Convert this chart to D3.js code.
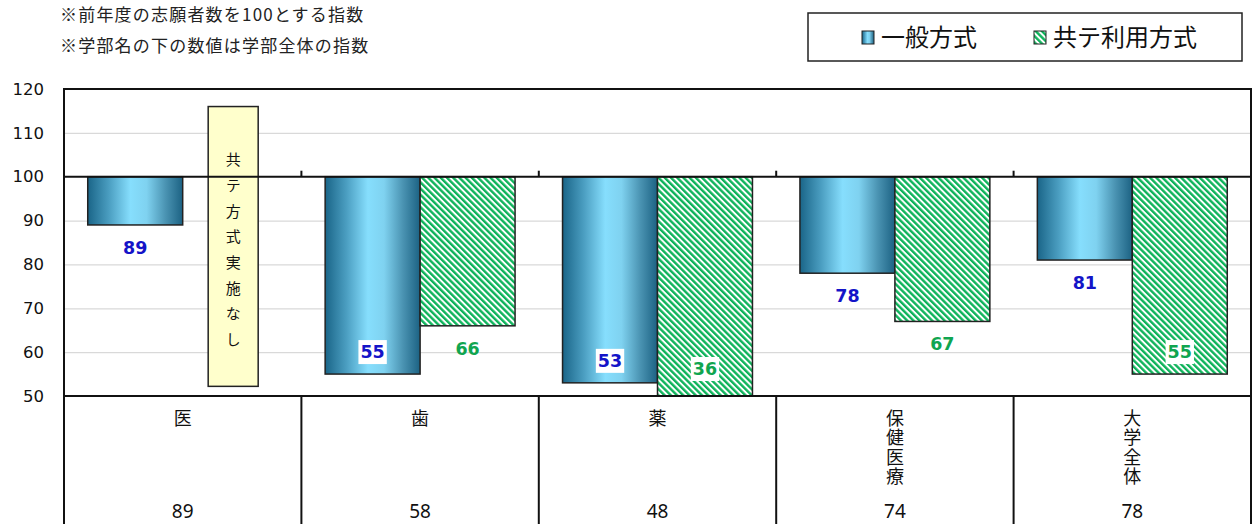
<!DOCTYPE html>
<html>
<head>
<meta charset="utf-8">
<script src="https://cdn.jsdelivr.net/npm/d3@7"></script>
<style>
  body { margin: 0; background: #fff; }
  svg { display: block; }
  .vert { writing-mode: vertical-rl; text-orientation: upright; }
</style>
</head>
<body>
<svg id="chart" width="1252" height="524"></svg>
<script>
"use strict";

// data
var categories = ["医", "歯", "薬", "保健医療", "大学全体"];
var seriesNames = ["一般方式", "共テ利用方式"];
var generalValues = [89, 55, 53, 78, 81];
var kyoteValues = [null, 66, 36, 67, 55];
var facultyTotals = [89, 58, 48, 74, 78];
var yTicks = [50, 60, 70, 80, 90, 100, 110, 120];
var notes = ["※前年度の志願者数を100とする指数", "※学部名の下の数値は学部全体の指数"];
var noKyoteText = "共テ方式実施なし";

var Chart = (function(){
	var svg, x, xs, y,
		left = 64, right = 1251, top = 89, bottom = 396, tableBottom = 524,
		baseValue = 100;

	function init(el) {
		svg = d3.select("#" + el);
		x = d3.scaleBand().domain(categories).range([left, right]);
		xs = d3.scaleBand().domain(seriesNames).range([x.bandwidth() * 0.1, x.bandwidth() * 0.9]);
		y = d3.scaleLinear().domain([50, 120]).range([bottom, top]);

		defs();
		drawNotes();
		drawLegend();
		drawGrid();
		drawBars();
		drawFrame();
		drawLabels();
		drawTable();
	}

	function defs() {
		var d = svg.append("defs");
		var g = d.append("linearGradient").attr("id", "blueGrad")
			.attr("x1", "0%").attr("x2", "100%").attr("y1", "0%").attr("y2", "0%");
		g.append("stop").attr("offset", "0%").attr("stop-color", "#1a6588");
		g.append("stop").attr("offset", "22%").attr("stop-color", "#4a9dc0");
		g.append("stop").attr("offset", "45%").attr("stop-color", "#86defd");
		g.append("stop").attr("offset", "62%").attr("stop-color", "#7fd2f0");
		g.append("stop").attr("offset", "82%").attr("stop-color", "#4a93b2");
		g.append("stop").attr("offset", "100%").attr("stop-color", "#1c6283");

		// wide downward diagonal
		var p = d.append("pattern").attr("id", "greenStripe")
			.attr("patternUnits", "userSpaceOnUse")
			.attr("width", 4.4).attr("height", 4.4)
			.attr("patternTransform", "rotate(-45)");
		p.append("rect").attr("width", 4.4).attr("height", 4.4).attr("fill", "#ffffff");
		p.append("rect").attr("width", 2.4).attr("height", 4.4).attr("fill", "#0db35a");
	}

	function drawNotes() {
		svg.append("g").selectAll("text")
			.data(notes)
			.enter()
			.append("text")
			.attr("x", 60)
			.attr("y", function(d, i) { return 21 + i * 31; })
			.attr("font-family", "'Noto Sans CJK JP', sans-serif")
			.attr("font-size", 17)
			.attr("letter-spacing", 1.2)
			.attr("fill", "#222")
			.text(function(d) { return d; });
	}

	function drawLegend() {
		var lg = svg.append("g");
		lg.append("rect")
			.attr("x", 808).attr("y", 13).attr("width", 434).attr("height", 48)
			.attr("fill", "#fff").attr("stroke", "#222").attr("stroke-width", 1.5);
		var items = lg.selectAll("g.item")
			.data(seriesNames)
			.enter()
			.append("g")
			.attr("class", "item")
			.attr("transform", function(d, i) { return "translate(" + (i == 0 ? 862 : 1034) + ",0)"; });
		items.append("rect")
			.attr("x", 0).attr("y", 31).attr("width", 12).attr("height", 13)
			.attr("fill", function(d, i) { return i == 0 ? "url(#blueGrad)" : "url(#greenStripe)"; })
			.attr("stroke", "#222").attr("stroke-width", 1);
		items.append("text")
			.attr("x", 19).attr("y", 46)
			.attr("font-family", "'Noto Sans CJK JP', sans-serif")
			.attr("font-size", 24)
			.attr("fill", "#111")
			.text(function(d) { return d; });
	}

	function drawGrid() {
		var grid = svg.append("g")
			.attr("transform", "translate(" + left + ",0)")
			.call(d3.axisLeft(y).tickValues(yTicks.filter(function(t) { return t != 50 && t != 120 && t != baseValue; }))
				.tickSize(-(right - left)).tickFormat(""));
		grid.select(".domain").remove();
		grid.selectAll(".tick line").attr("stroke", "#d9d9d9").attr("stroke-width", 1.2);

		var axis = svg.append("g")
			.attr("transform", "translate(" + left + ",0)")
			.call(d3.axisLeft(y).tickValues(yTicks).tickSize(0).tickPadding(20));
		axis.select(".domain").remove();
		axis.selectAll("text")
			.attr("font-family", "'DejaVu Sans', Verdana, sans-serif")
			.attr("font-size", 16.5)
			.attr("fill", "#111");
	}

	function barRows() {
		var rows = [];
		categories.forEach(function(c, i) {
			rows.push({ cat: c, series: seriesNames[0], value: generalValues[i] });
			if (kyoteValues[i] !== null) rows.push({ cat: c, series: seriesNames[1], value: kyoteValues[i] });
		});
		return rows;
	}

	function drawBars() {
		svg.append("g").selectAll("rect")
			.data(barRows())
			.enter()
			.append("rect")
			.attr("x", function(d) { return x(d.cat) + xs(d.series); })
			.attr("width", xs.bandwidth())
			.attr("y", y(baseValue))
			.attr("height", function(d) { return y(Math.max(d.value, 50)) - y(baseValue); })
			.attr("fill", function(d) { return d.series == seriesNames[0] ? "url(#blueGrad)" : "url(#greenStripe)"; })
			.attr("stroke", "#222")
			.attr("stroke-width", 1.5);

		// note box for 医 (no 共テ方式)
		var bx = x(categories[0]) + xs(seriesNames[1]) + xs.bandwidth() / 2 + 3;
		var note = svg.append("g");
		note.append("rect")
			.attr("x", bx - 25).attr("width", 50)
			.attr("y", y(116)).attr("height", y(52.2) - y(116))
			.attr("fill", "#ffffcc").attr("stroke", "#222").attr("stroke-width", 1.5);
		note.append("text")
			.attr("class", "vert")
			.attr("x", bx)
			.attr("y", 152)
			.attr("font-family", "'Noto Sans CJK JP', sans-serif")
			.attr("font-size", 15)
			.attr("letter-spacing", 10.7)
			.attr("fill", "#111")
			.text(noKyoteText);
	}

	function drawFrame() {
		var f = svg.append("g").attr("stroke", "#111").attr("stroke-width", 2).attr("fill", "none");
		f.append("rect").attr("x", left).attr("y", top).attr("width", right - left).attr("height", bottom - top);
		f.append("line").attr("x1", left).attr("x2", right).attr("y1", y(baseValue)).attr("y2", y(baseValue));
		f.selectAll("line.tick")
			.data(categories.slice(1))
			.enter()
			.append("line")
			.attr("class", "tick")
			.attr("x1", function(d) { return x(d); })
			.attr("x2", function(d) { return x(d); })
			.attr("y1", y(baseValue)).attr("y2", y(baseValue) - 6);
	}

	function drawLabels() {
		var rows = barRows();
		var g = svg.append("g");
		rows.forEach(function(d) {
			var cx = x(d.cat) + xs(d.series) + xs.bandwidth() / 2;
			var end = y(d.value);
			var inside = end + 30 > bottom;
			var cy = inside ? Math.min(end, bottom - 5) - 22 : end + 23;
			var color = d.series == seriesNames[0] ? "#1414c8" : "#10a550";
			var t = g.append("text")
				.attr("x", cx).attr("y", cy + 6)
				.attr("text-anchor", "middle")
				.attr("font-family", "'DejaVu Sans', Verdana, sans-serif")
				.attr("font-weight", "bold")
				.attr("font-size", 17.5)
				.attr("fill", color)
				.text(d.value);
			if (inside) {
				var bb = t.node().getBBox();
				g.insert("rect", "text")
					.attr("x", bb.x - 2).attr("y", bb.y - 2)
					.attr("width", bb.width + 4).attr("height", bb.height + 4)
					.attr("fill", "#fff");
			}
		});
	}

	function drawTable() {
		var t = svg.append("g");
		t.append("g").attr("stroke", "#111").attr("stroke-width", 2)
			.selectAll("line")
			.data(categories.concat(["end"]))
			.enter()
			.append("line")
			.attr("x1", function(d) { return d == "end" ? right : x(d); })
			.attr("x2", function(d) { return d == "end" ? right : x(d); })
			.attr("y1", bottom).attr("y2", tableBottom);

		var cells = t.selectAll("g.cell")
			.data(categories)
			.enter()
			.append("g")
			.attr("class", "cell")
			.attr("transform", function(d) { return "translate(" + (x(d) + x.bandwidth() / 2) + ",0)"; });
		cells.append("text")
			.attr("class", "vert")
			.attr("x", 0)
			.attr("y", 409)
			.attr("font-family", "'Noto Sans CJK JP', sans-serif")
			.attr("font-size", 18)
			.attr("letter-spacing", 1.5)
			.attr("fill", "#111")
			.text(function(d) { return d; });
		cells.append("text")
			.attr("y", 518)
			.attr("text-anchor", "middle")
			.attr("font-family", "'Noto Sans', sans-serif")
			.attr("font-size", 19)
			.attr("fill", "#111")
			.text(function(d, i) { return facultyTotals[i]; });
	}

	return {
		"init": init
	};
}());

Chart.init("chart");
</script>
</body>
</html>
